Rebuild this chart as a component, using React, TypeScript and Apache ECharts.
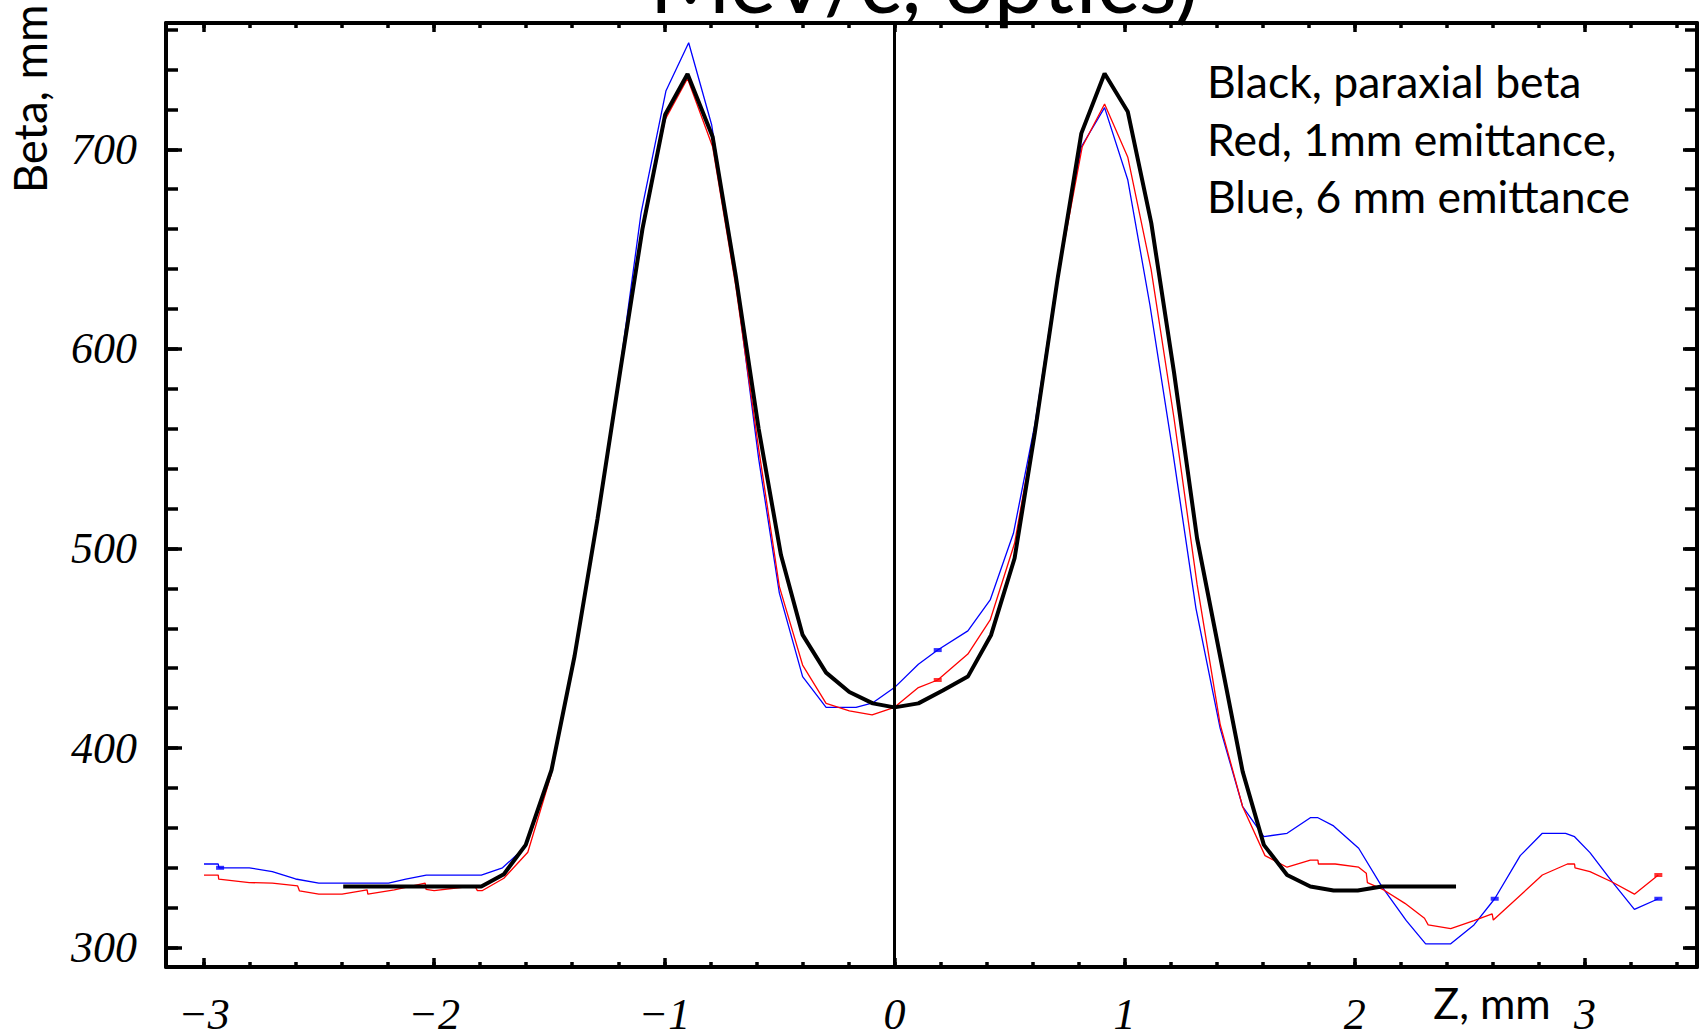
import React, { useEffect, useRef } from "react";
import * as echarts from "echarts";

// ---- data (z in mm, beta in mm) ----
const blackZ = [-2.395, -1.795, -1.697, -1.602, -1.49, -1.39, -1.29, -1.19, -1.095, -0.996, -0.899, -0.79, -0.69, -0.59, -0.493, -0.399, -0.297, -0.196, -0.094, 0, 0.104, 0.21, 0.319, 0.42, 0.522, 0.61, 0.71, 0.812, 0.913, 1.014, 1.116, 1.215, 1.315, 1.415, 1.513, 1.605, 1.706, 1.807, 1.908, 2.013, 2.118, 2.44];
const blackBeta = [330.6, 330.6, 336.8, 351.5, 389, 446, 515, 590, 660, 717.5, 737.7, 706.3, 637, 560, 496.7, 456.7, 437.8, 428.1, 422.4, 420.4, 422.4, 428.8, 435.8, 456.7, 495.1, 558, 636, 708, 738, 718.8, 663, 588, 505, 446, 388.2, 351.5, 336.4, 330.6, 328.6, 328.6, 330.6, 330.6];

const redZ = [-3, -2.938, -2.936, -2.803, -2.703, -2.593, -2.585, -2.501, -2.4, -2.291, -2.288, -2.173, -2.039, -2.035, -2.0, -1.896, -1.824, -1.812, -1.79, -1.697, -1.593, -1.492, -1.39, -1.29, -1.19, -1.095, -0.996, -0.899, -0.79, -0.69, -0.59, -0.5, -0.399, -0.297, -0.196, -0.097, 0, 0.104, 0.188, 0.319, 0.416, 0.522, 0.61, 0.71, 0.816, 0.913, 1.014, 1.115, 1.215, 1.315, 1.415, 1.513, 1.61, 1.706, 1.807, 1.84, 1.842, 1.915, 2.017, 2.05, 2.055, 2.126, 2.218, 2.303, 2.319, 2.417, 2.518, 2.597, 2.602, 2.815, 2.924, 2.955, 2.957, 3.022, 3.118, 3.215, 3.319];
const redBeta = [336.3, 336.3, 334.3, 332.6, 332.3, 330.9, 328.4, 326.8, 326.8, 328.9, 326.8, 328.9, 332.3, 329.2, 328.6, 330, 331, 328.6, 328.6, 334.8, 347.8, 386.5, 445, 515, 590, 662, 715, 735.5, 701.3, 632, 550, 480.9, 441.6, 422.4, 418.6, 416.6, 420.4, 430.3, 434.1, 447.1, 464.2, 502.6, 560, 636, 701.3, 722.7, 696, 640, 565, 482, 412, 370.6, 346.1, 340.3, 343.9, 343.9, 341.9, 341.9, 340.3, 337.3, 332.6, 328.9, 322.2, 314.7, 311.4, 309.5, 313.5, 316.9, 313.8, 336.4, 341.9, 341.9, 340, 338.1, 332.9, 326.8, 336.4];

const blueZ = [-3, -2.938, -2.935, -2.803, -2.703, -2.602, -2.501, -2.198, -2.123, -2.034, -1.795, -1.703, -1.602, -1.49, -1.39, -1.29, -1.19, -1.101, -0.993, -0.894, -0.794, -0.69, -0.59, -0.5, -0.399, -0.297, -0.167, -0.094, 0, 0.104, 0.188, 0.319, 0.416, 0.517, 0.61, 0.71, 0.812, 0.913, 1.014, 1.11, 1.21, 1.31, 1.415, 1.513, 1.605, 1.706, 1.807, 1.84, 1.908, 2.017, 2.118, 2.224, 2.308, 2.417, 2.518, 2.608, 2.719, 2.815, 2.916, 2.955, 3.022, 3.118, 3.215, 3.319];
const blueBeta = [341.9, 341.9, 340, 340, 338.1, 334.4, 332.3, 332.3, 334.3, 336.3, 336.3, 340, 350.6, 388, 447, 516, 592, 668, 729.2, 753.4, 712.2, 635, 545, 477.6, 435.8, 420.4, 420.4, 422.7, 430.3, 442, 449.1, 458.7, 474.2, 507.6, 562, 638, 701.3, 720.9, 684.6, 622, 548, 470, 410, 370.6, 355.6, 357.3, 365.1, 365.1, 361, 349.8, 330.6, 313.5, 301.9, 301.9, 311.4, 324.5, 346.1, 357.3, 357.3, 355.6, 347.6, 333.1, 319.2, 324.5];

const blueMarkZ = [-2.93, 0.188, 2.608, 3.319];
const blueMarkBeta = [340, 449.1, 324.5, 324.5];
const redMarkZ = [0.188, 3.319];
const redMarkBeta = [434.1, 336.4];

// ---- axes ----
const X_MIN = -3.165;
const X_MAX = 3.487;
const Y_MIN = 290.3;
const Y_MAX = 763.3;
const xMajor = [-3, -2, -1, 0, 1, 2, 3];
const xMinor = [-3, -2.8, -2.6, -2.4, -2.2, -2, -1.8, -1.6, -1.4, -1.2, -1, -0.8, -0.6, -0.4, -0.2, 0, 0.2, 0.4, 0.6, 0.8, 1, 1.2, 1.4, 1.6, 1.8, 2, 2.2, 2.4, 2.6, 2.8, 3, 3.2, 3.4];
const yMajor = [300, 400, 500, 600, 700];
const yMinor = [300, 320, 340, 360, 380, 400, 420, 440, 460, 480, 500, 520, 540, 560, 580, 600, 620, 640, 660, 680, 700, 720, 740, 760];

const titleText = "MeV/c, optics)";
const noteLines = ["Black, paraxial beta", "Red, 1mm emittance,", "Blue, 6 mm emittance"];
const xName = "Z, mm";
const yName = "Beta, mm";

const pairs = (xs: number[], ys: number[]) => xs.map((x, i) => [x, ys[i]]);
const fmt = (v: number) => String(v).replace("-", "\u2212");

const SANS = "Lato, 'Noto Sans', sans-serif";

function xAx(position: string, ticks: number[], len: number, withLine: boolean, withLabel: boolean) {
  return {
    type: "value",
    position,
    min: X_MIN,
    max: X_MAX,
    axisLine: { show: withLine, onZero: false, lineStyle: { color: "#000", width: 4 } },
    axisTick: { show: true, inside: true, length: len, customValues: ticks, lineStyle: { color: "#000", width: 3.5 } },
    axisLabel: withLabel
      ? { show: true, customValues: xMajor, formatter: fmt, margin: 25, fontFamily: "'Liberation Serif', serif", fontStyle: "italic", fontSize: 44, color: "#000" }
      : { show: false },
    splitLine: { show: false },
    minorTick: { show: false },
  };
}

function yAx(position: string, ticks: number[], len: number, withLine: boolean, withLabel: boolean) {
  return {
    type: "value",
    position,
    min: Y_MIN,
    max: Y_MAX,
    axisLine: { show: withLine, onZero: false, lineStyle: { color: "#000", width: 4 } },
    axisTick: { show: true, inside: true, length: len, customValues: ticks, lineStyle: { color: "#000", width: 3.5 } },
    axisLabel: withLabel
      ? { show: true, customValues: yMajor, formatter: fmt, margin: 29, fontFamily: "'Liberation Serif', serif", fontStyle: "italic", fontSize: 44, color: "#000" }
      : { show: false },
    splitLine: { show: false },
    minorTick: { show: false },
  };
}

function txt(text: string, x: number, y: number, size: number, align: string, rotation = 0) {
  return {
    type: "text",
    x,
    y,
    rotation,
    silent: true,
    z: 100,
    style: {
      text,
      fill: "#000",
      font: `${size}px ${SANS}`,
      fontSize: size,
      fontFamily: SANS,
      align,
      textAlign: align,
      verticalAlign: "middle",
      textVerticalAlign: "middle",
    },
  };
}

export default function App() {
  const ref = useRef<HTMLDivElement>(null);

  useEffect(() => {
    if (!ref.current) return;
    const chart = echarts.init(ref.current, null, { renderer: "svg" });
    const option: any = {
      animation: false,
      backgroundColor: "#ffffff",
      grid: { left: 166, right: 10, top: 23, bottom: 69, containLabel: false, outerBoundsMode: "none" },
      xAxis: [
        xAx("bottom", xMajor, 9, true, true),
        xAx("bottom", xMinor, 5, false, false),
        xAx("top", xMajor, 9, true, false),
        xAx("top", xMinor, 5, false, false),
      ],
      yAxis: [
        yAx("left", yMajor, 16, true, true),
        yAx("left", yMinor, 12, false, false),
        yAx("right", yMajor, 14, true, false),
        yAx("right", yMinor, 12, false, false),
      ],
      series: [
        {
          type: "line",
          name: "blue",
          data: pairs(blueZ, blueBeta),
          showSymbol: false,
          symbol: "none",
          lineStyle: { color: "#0000ff", width: 1.3 },
          itemStyle: { color: "#0000ff" },
          z: 3,
        },
        {
          type: "line",
          name: "red",
          data: pairs(redZ, redBeta),
          showSymbol: false,
          symbol: "none",
          lineStyle: { color: "#ff0000", width: 1.3 },
          itemStyle: { color: "#ff0000" },
          z: 4,
        },
        {
          type: "line",
          name: "black",
          data: pairs(blackZ, blackBeta),
          showSymbol: false,
          symbol: "none",
          lineStyle: { color: "#000000", width: 4 },
          itemStyle: { color: "#000000" },
          z: 5,
          markLine: {
            silent: true,
            symbol: ["none", "none"],
            label: { show: false },
            lineStyle: { color: "#000", width: 3, type: "solid" },
            data: [{ xAxis: 0 }],
          },
        },
        {
          type: "scatter",
          data: pairs(blueMarkZ, blueMarkBeta),
          symbol: "rect",
          symbolSize: [8, 4],
          itemStyle: { color: "#0000ff" },
          z: 6,
        },
        {
          type: "scatter",
          data: pairs(redMarkZ, redMarkBeta),
          symbol: "rect",
          symbolSize: [8, 4],
          itemStyle: { color: "#ff0000" },
          z: 6,
        },
      ],
      graphic: [
        txt(titleText, 924, -21, 88, "center"),
        txt(noteLines[0], 1207, 80.5, 44.5, "left"),
        txt(noteLines[1], 1207, 138, 44.5, "left"),
        txt(noteLines[2], 1207, 195.5, 44.5, "left"),
        txt(xName, 1492, 1002, 43, "center"),
        txt(yName, 29, 99, 45.5, "center", Math.PI / 2),
      ],
    };
    chart.setOption(option);
    return () => chart.dispose();
  }, []);

  return (
    <div
      ref={ref}
      style={{ position: "fixed", left: 0, top: 0, width: 1707, height: 1036, background: "#fff" }}
    />
  );
}
